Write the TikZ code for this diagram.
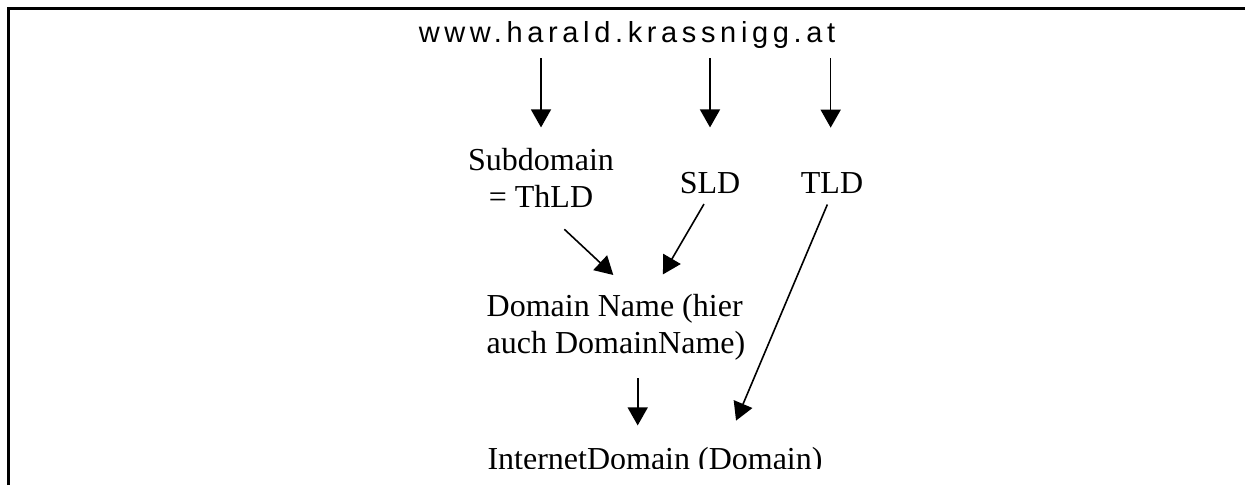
\documentclass[tikz,border=0pt]{standalone}
\usepackage{fontspec}
\setmainfont{Liberation Serif}
\newfontfamily\urlfont[LetterSpace=16]{Liberation Sans}
\usetikzlibrary{arrows.meta}
\tikzset{
	lbl/.style={inner sep=0pt, anchor=base, font=\fontsize{16}{18.5}\selectfont},
	arr/.style={-{Triangle[width=10pt,length=9pt]}, line width=0.8pt},
}

\begin{document}
\begin{tikzpicture}[x=0.5pt,y=-0.5pt]
\useasboundingbox (0,0) rectangle (1245,495);
% frame
\draw[line width=1.5pt] (8,485) -- (8,8) -- (1245,8);
%
\node[inner sep=0pt, anchor=base, font=\urlfont\fontsize{14.5}{16}\selectfont] (url) at (627,42) {www.harald.krassnigg.at};
\node[lbl, align=center] (sub) at (541,207) {Subdomain\\= ThLD};
\node[lbl] (sld) at (710,193) {SLD};
\node[lbl] (tld) at (832,193) {TLD};
\node[lbl, align=left] (dn) at (616,353) {Domain Name (hier\\auch DomainName)};
\begin{scope}
\clip (0,0) rectangle (1245,468);
\node[lbl] (id) at (655,469) {InternetDomain (Domain)};
\end{scope}
%
\draw[arr, shorten <=5pt, shorten >=10pt] (url.south -| sub.north) -- (sub.north);
\draw[arr, shorten <=5pt, shorten >=22pt] (url.south -| sld.north) -- (sld.north);
\draw[arr, shorten <=5pt, shorten >=22pt] (url.south -| tld.97) -- (tld.97);
%
\draw[arr, shorten <=16pt, shorten >=13.5pt] (sub.south) -- (dn.63);
\draw[arr, shorten <=6pt, shorten >=11pt] (sld.south) -- (dn.43);
\draw[arr, shorten <=6pt, shorten >=14pt] (tld.south) -- (id.12);
\draw[arr, shorten <=9pt, shorten >=10.5pt] (dn.-57) -- (dn.-57 |- id.north);
%
\end{tikzpicture}
\end{document}
